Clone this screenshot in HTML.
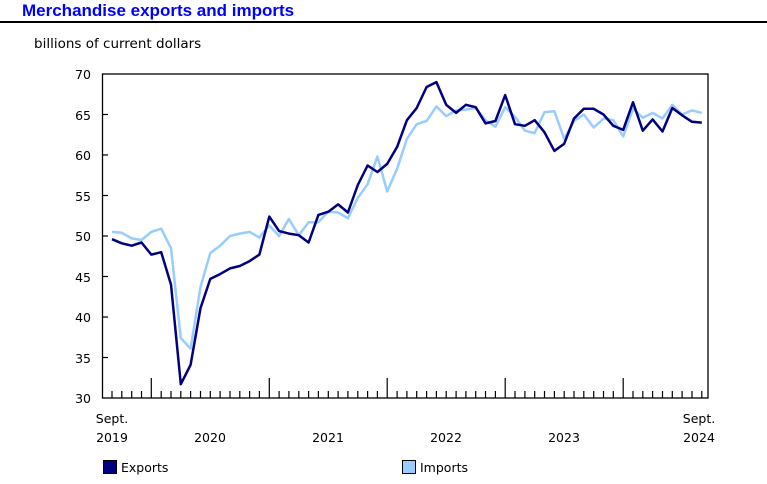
<!DOCTYPE html>
<html><head><meta charset="utf-8"><style>
body{margin:0;background:#fff;width:767px;height:484px;overflow:hidden;font-family:"DejaVu Sans","Liberation Sans",sans-serif;}
svg{position:absolute;left:0;top:0}
</style></head><body>
<svg width="767" height="484" xmlns="http://www.w3.org/2000/svg" font-family="DejaVu Sans, Liberation Sans, sans-serif">
<text x="22" y="16" font-family="Liberation Sans, Arial, sans-serif" font-weight="bold" font-size="17" fill="#0000ff">Merchandise exports and imports</text>
<rect x="0" y="21" width="767" height="2" fill="#000"/>
<text x="34" y="48" font-size="13.5" fill="#000">billions of current dollars</text>
<g font-size="12.5" fill="#000" text-anchor="end">
<text x="91" y="79">70</text><text x="91" y="120">65</text><text x="91" y="160">60</text><text x="91" y="201">55</text>
<text x="91" y="241">50</text><text x="91" y="322">40</text><text x="91" y="282">45</text><text x="91" y="363">35</text><text x="91" y="403">30</text>
</g>
<g id="ticks" stroke="#000" stroke-width="1.2"></g>
<rect x="102.5" y="74" width="605.5" height="324" fill="none" stroke="#000" stroke-width="1.3"/>
<polyline id="imp" fill="none" stroke="#99ccff" stroke-width="2.5" stroke-linejoin="round"/>
<polyline id="exp" fill="none" stroke="#000080" stroke-width="2.5" stroke-linejoin="round"/>
<g font-size="12.5" fill="#000" text-anchor="middle">
<text x="112" y="423">Sept.</text><text x="112" y="442">2019</text>
<text x="210" y="442">2020</text><text x="328" y="442">2021</text><text x="446" y="442">2022</text>
<text x="564" y="442">2023</text>
<text x="699" y="423">Sept.</text><text x="699" y="442">2024</text>
</g>
<rect x="103.5" y="460.5" width="13" height="13" fill="#000080" stroke="#000"/>
<text x="121" y="472" font-size="12.5">Exports</text>
<rect x="402.5" y="460.5" width="13" height="13" fill="#99ccff" stroke="#000"/>
<text x="420" y="472" font-size="12.5">Imports</text>
</svg>
<script>
var ex=[49.6,49.1,48.8,49.2,47.7,48.0,44.0,31.7,34.1,41.1,44.7,45.3,46.0,46.3,46.9,47.7,52.4,50.6,50.3,50.1,49.2,52.6,53.0,53.9,52.9,56.3,58.7,57.9,58.9,61.0,64.3,65.8,68.4,69.0,66.2,65.2,66.2,65.9,63.9,64.2,67.4,63.8,63.6,64.3,62.8,60.5,61.4,64.5,65.7,65.7,65.0,63.6,63.1,66.5,63.0,64.4,62.9,65.8,64.9,64.1,64.0];
var im=[50.5,50.4,49.7,49.5,50.5,50.9,48.5,37.4,36.1,43.7,47.9,48.8,50.0,50.3,50.5,49.8,51.3,50.0,52.1,50.1,51.7,51.7,53.0,52.9,52.2,54.7,56.4,59.8,55.5,58.3,62.0,63.8,64.2,66.0,64.8,65.5,65.6,65.8,64.3,63.5,65.9,64.7,63.0,62.7,65.3,65.4,62.0,64.2,65.0,63.4,64.5,64.3,62.3,65.7,64.6,65.2,64.5,66.2,65.0,65.5,65.2];
function X(i){return 112+9.83*i}function Y(v){return 74+(70-v)*8.1}
function pts(a){return a.map(function(v,i){return X(i).toFixed(1)+","+Y(v).toFixed(1)}).join(" ")}
document.getElementById("exp").setAttribute("points",pts(ex));
document.getElementById("imp").setAttribute("points",pts(im));
var g=document.getElementById("ticks"),s="";
for(var i=0;i<=60;i++){var x=X(i).toFixed(1);var big=(i%12==4);s+='<line x1="'+x+'" x2="'+x+'" y1="'+(big?378:391)+'" y2="398"/>';}
for(var v=35;v<70;v+=5){s+='<line x1="102" x2="108" y1="'+Y(v)+'" y2="'+Y(v)+'"/>';}
g.innerHTML=s;
</script>
</body></html>
